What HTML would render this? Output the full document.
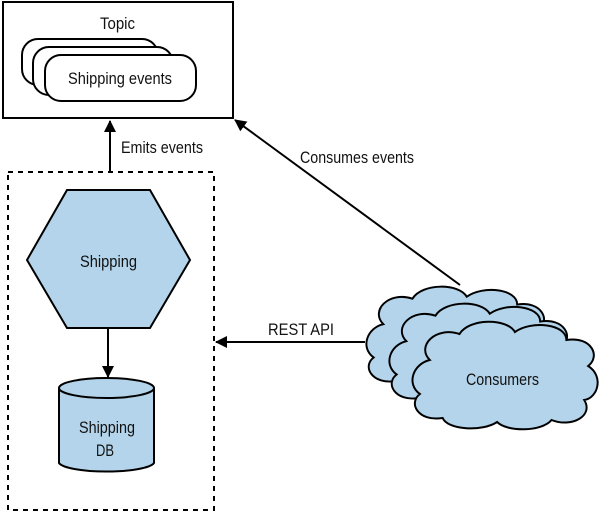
<!DOCTYPE html>
<html><head><style>body{margin:0;background:#fff}svg{display:block}text{font-family:"Liberation Sans",sans-serif;font-size:17px;fill:#111}</style></head><body>
<svg width="600" height="514" viewBox="0 0 600 514" xmlns="http://www.w3.org/2000/svg">
<defs>
<marker id="a" markerWidth="12" markerHeight="12" refX="11" refY="6" orient="auto" markerUnits="userSpaceOnUse"><path d="M0,0 L12,6 L0,12 z" fill="#000"/></marker>
<path id="cl" d="M22,42 C8,28 28,8 52,16 C62,0 100,0 108,14 C125,2 160,6 160,22 C185,18 195,38 182,48 C198,58 192,80 178,82 C188,98 165,110 145,102 C135,114 100,114 90,104 C75,114 40,112 35,100 C10,104 0,85 12,76 C-2,66 5,46 22,42 Z"/>
</defs>
<rect x="3" y="2" width="230" height="116" fill="#fff" stroke="#000" stroke-width="2"/>
<text x="100" y="29" textLength="35" lengthAdjust="spacingAndGlyphs">Topic</text>
<rect x="22" y="39" width="136" height="46" rx="16" fill="#fff" stroke="#000" stroke-width="2"/>
<rect x="33" y="47" width="140" height="48" rx="16" fill="#fff" stroke="#000" stroke-width="2"/>
<rect x="45" y="55" width="151" height="46" rx="16" fill="#fff" stroke="#000" stroke-width="2"/>
<text x="68" y="84" textLength="104" lengthAdjust="spacingAndGlyphs">Shipping events</text>
<line x1="110" y1="172" x2="110" y2="121" stroke="#000" stroke-width="2" marker-end="url(#a)"/>
<text x="121" y="153" textLength="82" lengthAdjust="spacingAndGlyphs">Emits events</text>
<rect x="8" y="172" width="206" height="338" fill="none" stroke="#000" stroke-width="2" stroke-dasharray="5,5"/>
<polygon points="27,260 67,190 150,190 190,260 150,328 67,328" fill="#b3d4ea" stroke="#000" stroke-width="2"/>
<text x="80" y="267" textLength="57" lengthAdjust="spacingAndGlyphs">Shipping</text>
<line x1="108" y1="328" x2="108" y2="377" stroke="#000" stroke-width="2" marker-end="url(#a)"/>
<path d="M59,388 L59,463 A48,10 0 0 0 154,463 L154,388" fill="#b3d4ea" stroke="#000" stroke-width="2"/>
<ellipse cx="106.5" cy="388" rx="47.5" ry="10" fill="#b3d4ea" stroke="#000" stroke-width="2"/>
<text x="79" y="433" textLength="56" lengthAdjust="spacingAndGlyphs">Shipping</text>
<text x="96" y="456" textLength="18" lengthAdjust="spacingAndGlyphs">DB</text>
<line x1="460" y1="285" x2="235" y2="120" stroke="#000" stroke-width="2" marker-end="url(#a)"/>
<text x="300" y="163" textLength="114" lengthAdjust="spacingAndGlyphs">Consumes events</text>
<line x1="365" y1="342" x2="216" y2="342" stroke="#000" stroke-width="2" marker-end="url(#a)"/>
<text x="268" y="335" textLength="66" lengthAdjust="spacingAndGlyphs">REST API</text>
<use href="#cl" transform="translate(362,283) scale(0.97,0.98)" fill="#b3d4ea" stroke="#000" stroke-width="2"/>
<use href="#cl" transform="translate(385,300) scale(0.97,0.98)" fill="#b3d4ea" stroke="#000" stroke-width="2"/>
<use href="#cl" transform="translate(408,318) scale(0.99,1.0)" fill="#b3d4ea" stroke="#000" stroke-width="2"/>
<text x="466" y="385" textLength="73" lengthAdjust="spacingAndGlyphs">Consumers</text>
</svg>
</body></html>
